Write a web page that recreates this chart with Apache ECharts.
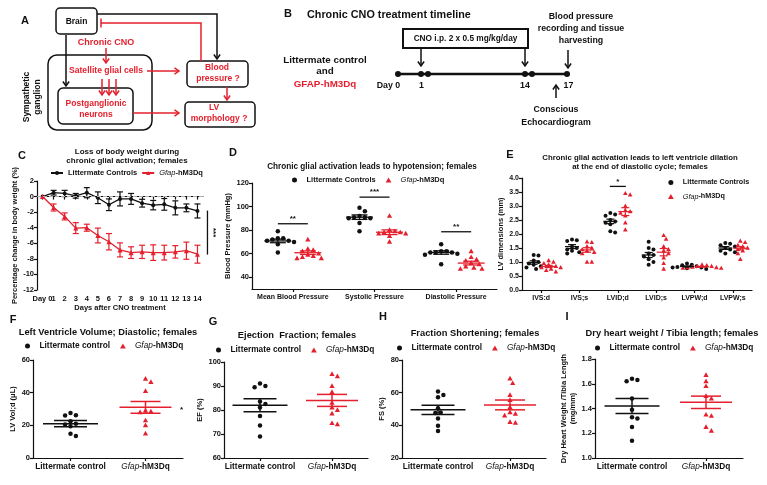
<!DOCTYPE html>
<html><head><meta charset="utf-8">
<script src="https://cdn.jsdelivr.net/npm/echarts@6/dist/echarts.min.js"></script>
<style>html,body{margin:0;padding:0;background:#fff}#c{width:767px;height:485px}</style>
</head><body><div id="c"></div>
<script>
// ================= DATA =================
// Panel C: % change in body weight (mean, SEM) per day
const daysC = ['Day 0','1','2','3','4','5','6','7','8','9','10','11','12','13','14'];
const ctrlMeanC = [0, 0.5, 0.4, 0.1, 0.5, -0.15, -1.05, -0.3, -0.3, -0.85, -1.1, -1.0, -1.45, -1.45, -1.85];
const ctrlSemC  = [0, 0.3, 0.4, 0.3, 0.65, 0.75, 0.75, 0.9, 0.7, 0.5, 0.6, 0.75, 0.9, 0.5, 0.9];
const gfapMeanC = [0, -1.4, -2.55, -4.05, -4.0, -5.0, -5.8, -6.85, -7.2, -7.1, -7.2, -7.2, -7.1, -6.95, -7.4];
const gfapSemC  = [0, 0.45, 0.45, 0.7, 0.45, 0.95, 1.05, 0.9, 0.75, 0.85, 1.0, 0.95, 0.8, 1.1, 1.15];
const sigC = [-1.8, -7.45];
const sigTextC = '***';

// Panel D: blood pressure (mmHg)
const bpCats = ['Mean Blood Pressure', 'Systolic Pressure', 'Diastolic Pressure'];
const bpCtrl = [[79,73,73,72,71,71,70,68,61],[99,96,92,91,91,90,90,86,79],[68,62,62,61,61,61,60,59,51]];
const bpGfap = [[72,64,63,62,60,59,58,57,56,56],[92,80,79,78,78,77,77,75,70],[62,57,55,54,52,51,49,48,47,47]];
const bpCtrlMean = [70.8, 91.0, 61.0];
const bpCtrlSem  = [1.5, 1.9, 1.5];
const bpGfapMean = [60.8, 78.2, 52.0];
const bpGfapSem  = [1.5, 2.0, 1.6];
const bpSigVal  = [85.4, 108, 78.6];
const bpSigText = ['**', '***', '**'];
const bpTicks = [40, 60, 80, 100, 120];

// Panel E: LV dimensions (mm)
const lvCats = ['IVS:d', 'IVS;s', 'LVID;d', 'LVID;s', 'LVPW;d', 'LVPW;s'];
const lvCtrl = [[1.25,1.23,1.05,1.0,0.95,0.9,0.85,0.8,0.75],[1.8,1.78,1.75,1.55,1.5,1.45,1.4,1.35,1.3],[2.75,2.7,2.65,2.5,2.45,2.4,2.35,2.1,2.05],[1.72,1.5,1.45,1.3,1.25,1.2,1.1,1.0,0.9],[0.95,0.9,0.88,0.85,0.82,0.8,0.8,0.78,0.75],[1.68,1.65,1.6,1.55,1.5,1.45,1.4,1.35,1.3]];
const lvGfap = [[1.05,1.0,0.95,0.9,0.85,0.8,0.8,0.75,0.7,0.65],[1.72,1.7,1.55,1.5,1.45,1.4,1.35,1.3,1.0,1.0],[3.45,3.4,3.0,2.85,2.8,2.75,2.65,2.4,2.15],[1.95,1.82,1.55,1.45,1.4,1.3,1.15,0.95,0.75],[0.9,0.88,0.85,0.85,0.82,0.8,0.8,0.78,0.78],[1.75,1.7,1.6,1.55,1.5,1.45,1.4,1.3,1.1]];
const lvCtrlMean = [0.98, 1.55, 2.45, 1.25, 0.84, 1.50];
const lvCtrlSem  = [0.06, 0.07, 0.08, 0.09, 0.02, 0.05];
const lvGfapMean = [0.84, 1.43, 2.80, 1.35, 0.83, 1.49];
const lvGfapSem  = [0.04, 0.08, 0.14, 0.13, 0.01, 0.06];
const lvSigCat = [2];
const lvSigVal = [3.7];
const lvSigText = ['*'];

// Panels F-I: two groups
const grpCats = ['Littermate control', 'Gfap-hM3Dq'];
const lvvCtrl = [27.6, 26.0, 26.2, 22.5, 21.0, 20.5, 19.5, 14.8, 13.5];
const lvvGfap = [48.5, 46.5, 41, 29, 28.5, 28, 23, 20, 15];
const lvvMean = [21.0, 31.0];
const lvvSem  = [1.9, 3.6];
const lvvSigText = '*';
const efCtrl = [91, 90, 89.5, 83.5, 82.5, 81, 77.5, 73.5, 69];
const efGfap = [95, 94, 90, 87.5, 83, 81, 80, 78.5, 74.5, 74];
const efMean = [82.0, 84.0];
const efSem  = [2.7, 2.5];
const fsCtrl = [60.7, 58.6, 57.2, 50.5, 47.9, 47.5, 44.2, 39.7, 36.5];
const fsGfap = [68.6, 65.8, 58.5, 55.5, 51, 48, 47, 46, 42, 41.5];
const fsMean = [49.5, 52.5];
const fsSem  = [2.8, 3.0];
const hwCtrl = [1.64, 1.63, 1.62, 1.48, 1.39, 1.33, 1.32, 1.25, 1.14];
const hwGfap = [1.67, 1.62, 1.58, 1.5, 1.48, 1.35, 1.34, 1.25, 1.22];
const hwMean = [1.42, 1.45];
const hwSem  = [0.06, 0.05];

// ================= STYLE / HELPERS =================
const FONT = '"Liberation Sans", Arial, Helvetica, sans-serif';
const RED = '#e4202e';
const BLK = '#111111';
const TRI_ICON = 'path://M5,0 L10,8.7 L0,8.7 Z';

function T(x, y, text, o) {
  o = o || {};
  return {type:'text', x:x, y:y, rotation:o.rot || 0, z:20,
    style:{text:text, fill:o.color || BLK, fontSize:o.size || 8.5, fontWeight:o.weight || 'bold',
      fontStyle:o.italic ? 'italic' : 'normal', fontFamily:FONT, align:o.align || 'center', verticalAlign:'middle'}};
}
function PL(pts, color, lw) {
  return {type:'polyline', z:15, shape:{points:pts}, style:{stroke:color, lineWidth:lw || 1.5, fill:null}};
}
function ARR(pts, color, lw) {
  const n = pts.length, p1 = pts[n-2], p2 = pts[n-1];
  const a = Math.atan2(p2[1]-p1[1], p2[0]-p1[0]), len = 5.5, sp = 0.6;
  const h1 = [p2[0]-len*Math.cos(a-sp), p2[1]-len*Math.sin(a-sp)];
  const h2 = [p2[0]-len*Math.cos(a+sp), p2[1]-len*Math.sin(a+sp)];
  return [PL(pts, color, lw), PL([h1, p2, h2], color, lw)];
}
function BOX(x, y, w, h, r, lw) {
  return {type:'rect', z:15, shape:{x:x, y:y, width:w, height:h, r:r}, style:{stroke:BLK, lineWidth:lw || 1.5, fill:null}};
}

// beeswarm-like horizontal spreading (pixels), deterministic from values
function swarm(vals, pxPerUnit, size) {
  const placed = [], dx = new Array(vals.length);
  const order = vals.map((v, i) => i).sort((a, b) => vals[b] - vals[a]);
  order.forEach(i => {
    const y = vals[i] * pxPerUnit;
    for (let k = 0; k < 30; k++) {
      const cand = k === 0 ? 0 : (k % 2 ? 1 : -1) * Math.ceil(k / 2) * size * 0.6;
      if (placed.every(p => Math.hypot(p[0]-cand, p[1]-y) >= size * 1.05) || k === 29) {
        placed.push([cand, y]); dx[i] = cand; break;
      }
    }
  });
  return dx;
}
function marker(shape, x, y, s, color) {
  if (shape === 'circle') return {type:'circle', shape:{cx:x, cy:y, r:s/2}, style:{fill:color}};
  return {type:'polygon', shape:{points:[[x, y - s*0.62], [x - s*0.58, y + s*0.42], [x + s*0.58, y + s*0.42]]}, style:{fill:color}};
}
function dotSeries(name, gi, valsByCat, catIdx, color, shape, offPx, size, pxPerUnit) {
  const data = [];
  valsByCat.forEach((vals, j) => {
    const dx = swarm(vals, pxPerUnit, size);
    vals.forEach((v, k) => data.push([catIdx[j], v, dx[k]]));
  });
  return {type:'custom', name:name, xAxisIndex:gi, yAxisIndex:gi, data:data, encode:{x:0, y:1}, z:5,
    itemStyle:{color:color}, silent:true,
    renderItem:(p, api) => {
      const c = api.coord([api.value(0), api.value(1)]);
      return marker(shape, c[0] + offPx + api.value(2), c[1], size, color);
    }};
}
function meanSeries(id, gi, catIdx, means, sems, color, offPx, meanW, capW, lw) {
  return {type:'custom', name:id, xAxisIndex:gi, yAxisIndex:gi, z:6, silent:true,
    data: means.map((m, j) => [catIdx[j], m, sems[j]]), encode:{x:0, y:1},
    renderItem:(p, api) => {
      const ci = api.value(0), m = api.value(1), s = api.value(2);
      const c = api.coord([ci, m]), t = api.coord([ci, m + s]), b = api.coord([ci, m - s]);
      const x = c[0] + offPx, st = {stroke:color, lineWidth:lw};
      return {type:'group', children:[
        {type:'line', shape:{x1:x - meanW/2, y1:c[1], x2:x + meanW/2, y2:c[1]}, style:st},
        {type:'line', shape:{x1:x, y1:t[1], x2:x, y2:b[1]}, style:st},
        {type:'line', shape:{x1:x - capW/2, y1:t[1], x2:x + capW/2, y2:t[1]}, style:st},
        {type:'line', shape:{x1:x - capW/2, y1:b[1], x2:x + capW/2, y2:b[1]}, style:st}
      ]};
    }};
}
function errSeries(id, means, sems, color) {
  return {type:'custom', name:id, xAxisIndex:0, yAxisIndex:0, z:3, silent:true,
    data: means.map((m, i) => [i, m, sems[i]]), encode:{x:0, y:1},
    renderItem:(p, api) => {
      const i = api.value(0), m = api.value(1), s = api.value(2);
      if (!s) return null;
      const t = api.coord([i, m + s]), b = api.coord([i, m - s]), st = {stroke:color, lineWidth:1.2};
      return {type:'group', children:[
        {type:'line', shape:{x1:t[0], y1:t[1], x2:b[0], y2:b[1]}, style:st},
        {type:'line', shape:{x1:t[0]-3, y1:t[1], x2:t[0]+3, y2:t[1]}, style:st},
        {type:'line', shape:{x1:b[0]-3, y1:b[1], x2:b[0]+3, y2:b[1]}, style:st}
      ]};
    }};
}

function mkRich(fs) { return {i:{fontStyle:'italic', fontWeight:'normal', fontFamily:FONT, fontSize:fs, color:BLK}}; }
function fmtName(v) { return v === 'Gfap-hM3Dq' ? '{i|Gfap}-hM3Dq' : v; }

function xCat(gi, cats, fs, extra) {
  return Object.assign({type:'category', gridIndex:gi, data:cats, boundaryGap:true,
    axisLine:{show:true, lineStyle:{color:BLK, width:1.2}},
    axisTick:{show:true, alignWithLabel:true, length:3, lineStyle:{color:BLK, width:1.2}},
    axisLabel:{interval:0, color:BLK, fontSize:fs, fontWeight:'bold', fontFamily:FONT, margin:5,
      formatter:fmtName, rich:mkRich(fs)},
    splitLine:{show:false}}, extra || {});
}
function yVal(gi, min, max, interval, name, gap, extra) {
  return Object.assign({type:'value', gridIndex:gi, min:min, max:max, interval:interval,
    name:name, nameLocation:'middle', nameGap:gap,
    nameTextStyle:{color:BLK, fontSize:7.5, fontWeight:'bold', fontFamily:FONT, lineHeight:9},
    axisLine:{show:true, lineStyle:{color:BLK, width:1.2}},
    axisTick:{show:true, length:3, lineStyle:{color:BLK, width:1.2}},
    axisLabel:{color:BLK, fontSize:7.5, fontWeight:'bold', fontFamily:FONT, margin:3},
    splitLine:{show:false}}, extra || {});
}
function legend(left, top, names, icons, opts) {
  opts = opts || {};
  const fs = opts.fs || 7.5;
  return Object.assign({left:left, top:top, orient:'horizontal', itemGap:opts.gap || 10,
    itemWidth:opts.w || 14, itemHeight:opts.h || 5, selectedMode:false, padding:0, symbolKeepAspect:true,
    data: names.map((n, i) => icons ? {name:n, icon:icons[i]} : {name:n}),
    formatter:fmtName,
    textStyle:{color:BLK, fontSize:fs, fontWeight:'bold', fontFamily:FONT, rich:mkRich(fs)}}, opts.extra || {});
}

// ================= GRAPHICS (panels A, B, letters, titles) =================
const G = [];
// Panel A
G.push(T(25, 21, 'A', {size:11}));
G.push(BOX(56, 8, 41, 26, 4), T(76.5, 22, 'Brain', {size:8.5}));
G.push(BOX(48, 55, 104, 75, 9), BOX(58, 88, 75, 36, 5));
G.push(BOX(187, 61, 61, 26, 4), BOX(185, 102, 70, 25, 4));
G.push(T(106, 43, 'Chronic CNO', {color:RED, size:9}));
G.push(...ARR([[106, 48], [106, 63]], RED, 1.5));
G.push(T(106, 71, 'Satellite glial cells', {color:RED, size:8.6}));
[102, 109, 116].forEach(x => G.push(...ARR([[x, 79], [x, 95]], RED, 1.5)));
G.push(T(96, 104, 'Postganglionic', {color:RED, size:8.5}), T(96, 115, 'neurons', {color:RED, size:8.5}));
G.push(...ARR([[66, 35], [66, 86]], BLK, 1.5));
G.push(...ARR([[97, 14], [217, 14], [217, 59]], BLK, 1.5));
G.push(PL([[201, 61], [201, 23], [101, 23]], RED, 1.5), PL([[101, 18.5], [101, 27.5]], RED, 1.5));
G.push(...ARR([[227, 87], [227, 100]], RED, 1.5));
G.push(...ARR([[147, 71], [179, 71]], RED, 1.5));
G.push(...ARR([[133, 113], [179, 113]], RED, 1.5));
G.push(T(217, 68, 'Blood', {color:RED, size:8.5}), T(218, 79, 'pressure ?', {color:RED, size:8.5}));
G.push(T(214, 108, 'LV', {color:RED, size:8.5}), T(219, 119, 'morphology ?', {color:RED, size:8.5}));
G.push(T(27, 97, 'Sympathetic', {size:8.5, rot:Math.PI/2}), T(38, 97, 'ganglion', {size:8.5, rot:Math.PI/2}));
// Panel B
G.push(T(288, 14, 'B', {size:11}));
G.push(T(307, 15, 'Chronic CNO treatment timeline', {size:10.8, align:'left'}));
G.push({type:'rect', z:15, shape:{x:403, y:29, width:125, height:19}, style:{stroke:BLK, lineWidth:2, fill:null}});
G.push(T(465.5, 38.5, 'CNO i.p. 2 x 0.5 mg/kg/day', {size:8.3}));
G.push(...ARR([[421, 48], [421, 66]], BLK, 1.5), ...ARR([[525, 48], [525, 66]], BLK, 1.5));
G.push(PL([[398, 74], [567, 74]], BLK, 2.5));
[398, 421, 428, 525, 532, 567].forEach(x => G.push({type:'circle', z:16, shape:{cx:x, cy:74, r:3}, style:{fill:BLK}}));
G.push(T(388.5, 86, 'Day 0', {size:8.8}), T(421.5, 86, '1', {size:8.8}), T(525, 86, '14', {size:8.8}), T(568.5, 86, '17', {size:8.8}));
G.push(T(325, 60, 'Littermate control', {size:9.8}), T(325, 71.5, 'and', {size:9.8}), T(325, 84, 'GFAP-hM3Dq', {size:9.8, color:RED}));
G.push(T(581, 17, 'Blood pressure', {size:8.8}), T(581, 29, 'recording and tissue', {size:8.8}), T(581, 41, 'harvesting', {size:8.8}));
G.push(...ARR([[568, 50], [568, 68]], BLK, 1.5), ...ARR([[556, 98], [556, 85]], BLK, 1.5));
G.push(T(556, 110, 'Conscious', {size:8.8}), T(556, 123, 'Echocardiogram', {size:8.8}));
// Panel letters
[['C', 22, 156], ['D', 233, 153], ['E', 510, 155], ['F', 13, 320], ['G', 213, 322], ['H', 383, 317], ['I', 567, 317]]
  .forEach(l => G.push(T(l[1], l[2], l[0], {size:11})));
// Titles
G.push(T(127, 152, 'Loss of body weight during', {size:8}), T(127, 161, 'chronic glial activation; females', {size:8}));
G.push(T(372, 167, 'Chronic glial activation leads to hypotension; females', {size:8.2}));
G.push(T(640, 158, 'Chronic glial activation leads to left ventricle dilation', {size:7.8}), T(640, 166.5, 'at the end of diastolic cycle; females', {size:7.8}));
G.push(T(108, 332, 'Left Ventricle Volume; Diastolic; females', {size:9.3}));
G.push(T(297, 335, 'Ejection  Fraction; females', {size:9.3}));
G.push(T(475, 333, 'Fraction Shortening; females', {size:9.3}));
G.push(T(672, 333, 'Dry heart weight / Tibia length; females', {size:9.3}));

// ================= CHART =================
const grids = [
  {left:37, top:181, width:166, height:109},   // C
  {left:252, top:183, width:245, height:106},  // D
  {left:522, top:178, width:230, height:112},  // E
  {left:33, top:360, width:150, height:98},    // F
  {left:224, top:362, width:144, height:96},   // G
  {left:402, top:360, width:144, height:98},   // H
  {left:595, top:359, width:148, height:99}    // I
];
const pxU = grids.map((g, i) => g.height / [14, 90, 4, 60, 40, 60, 0.8][i]);

const series = [];
// C
series.push(errSeries('ctrl-sem', ctrlMeanC, ctrlSemC, BLK), errSeries('gfap-sem', gfapMeanC, gfapSemC, RED));
series.push({type:'line', name:'Littermate Controls', xAxisIndex:0, yAxisIndex:0, data:ctrlMeanC, z:4,
  symbol:'circle', symbolSize:4, itemStyle:{color:BLK}, lineStyle:{color:BLK, width:1.3},
  markLine:{silent:true, symbol:'none', label:{show:false}, lineStyle:{color:'#b0b0b0', type:'dashed', width:1}, data:[{yAxis:0}]}});
series.push({type:'line', name:'Gfap-hM3Dq', xAxisIndex:0, yAxisIndex:0, data:gfapMeanC, z:4,
  symbol:'triangle', symbolSize:5, itemStyle:{color:RED}, lineStyle:{color:RED, width:1.3}});
series.push({type:'custom', name:'sigC', xAxisIndex:0, yAxisIndex:0, silent:true, data:[[14, sigC[0], sigC[1]]], encode:{x:0, y:1},
  renderItem:(p, api) => {
    const a = api.coord([api.value(0), api.value(1)]), b = api.coord([api.value(0), api.value(2)]);
    const x = a[0] + 10;
    return {type:'group', children:[
      {type:'line', shape:{x1:x, y1:a[1], x2:x, y2:b[1]}, style:{stroke:BLK, lineWidth:1.3}},
      {type:'text', x:x + 6, y:(a[1] + b[1]) / 2, rotation:-Math.PI/2,
        style:{text:sigTextC, align:'center', verticalAlign:'middle', fontSize:8, fontWeight:'bold', fill:BLK, fontFamily:FONT}}]};
  }});
// D
series.push(dotSeries('Littermate Controls', 1, bpCtrl, [0,1,2], BLK, 'circle', -15, 4.5, pxU[1]));
series.push(dotSeries('Gfap-hM3Dq', 1, bpGfap, [0,1,2], RED, 'triangle', 15, 4.5, pxU[1]));
series.push(meanSeries('bpCtrlMean', 1, [0,1,2], bpCtrlMean, bpCtrlSem, BLK, -15, 27, 16, 1.3));
series.push(meanSeries('bpGfapMean', 1, [0,1,2], bpGfapMean, bpGfapSem, RED, 15, 27, 16, 1.3));
series.push({type:'custom', name:'sigD', xAxisIndex:1, yAxisIndex:1, silent:true, data:bpSigVal.map((v, i) => [i, v]), encode:{x:0, y:1},
  renderItem:(p, api) => {
    const c = api.coord([api.value(0), api.value(1)]);
    return {type:'group', children:[
      {type:'line', shape:{x1:c[0]-15, y1:c[1], x2:c[0]+15, y2:c[1]}, style:{stroke:BLK, lineWidth:1.3}},
      {type:'text', x:c[0], y:c[1] - 1, style:{text:bpSigText[p.dataIndex], align:'center', verticalAlign:'bottom', fontSize:8, fontWeight:'bold', fill:BLK, fontFamily:FONT}}]};
  }});
// E
series.push(dotSeries('Littermate Controls', 2, lvCtrl, [0,1,2,3,4,5], BLK, 'circle', -7.5, 4, pxU[2]));
series.push(dotSeries('Gfap-hM3Dq', 2, lvGfap, [0,1,2,3,4,5], RED, 'triangle', 7.5, 4, pxU[2]));
series.push(meanSeries('lvCtrlMean', 2, [0,1,2,3,4,5], lvCtrlMean, lvCtrlSem, BLK, -7.5, 14, 8, 1.2));
series.push(meanSeries('lvGfapMean', 2, [0,1,2,3,4,5], lvGfapMean, lvGfapSem, RED, 7.5, 14, 8, 1.2));
series.push({type:'custom', name:'sigE', xAxisIndex:2, yAxisIndex:2, silent:true, data:lvSigVal.map((v, i) => [lvSigCat[i], v]), encode:{x:0, y:1},
  renderItem:(p, api) => {
    const c = api.coord([api.value(0), api.value(1)]);
    return {type:'group', children:[
      {type:'line', shape:{x1:c[0]-8, y1:c[1], x2:c[0]+8, y2:c[1]}, style:{stroke:BLK, lineWidth:1.3}},
      {type:'text', x:c[0], y:c[1] - 1, style:{text:lvSigText[p.dataIndex], align:'center', verticalAlign:'bottom', fontSize:8, fontWeight:'bold', fill:BLK, fontFamily:FONT}}]};
  }});
// F-I
const twoGroup = [[3, lvvCtrl, lvvGfap, lvvMean, lvvSem], [4, efCtrl, efGfap, efMean, efSem], [5, fsCtrl, fsGfap, fsMean, fsSem], [6, hwCtrl, hwGfap, hwMean, hwSem]];
twoGroup.forEach(g => {
  const gi = g[0];
  series.push(dotSeries('Littermate control', gi, [g[1]], [0], BLK, 'circle', 0, 4.5, pxU[gi]));
  series.push(dotSeries('Gfap-hM3Dq', gi, [g[2]], [1], RED, 'triangle', 0, 4.5, pxU[gi]));
  series.push(meanSeries('m-ctrl-' + gi, gi, [0], [g[3][0]], [g[4][0]], BLK, 0, 55, 33, 1.5));
  series.push(meanSeries('m-gfap-' + gi, gi, [1], [g[3][1]], [g[4][1]], RED, 0, 52, 30, 1.5));
});
series.push({type:'custom', name:'sigF', xAxisIndex:3, yAxisIndex:3, silent:true, data:[[1, lvvMean[1]]], encode:{x:0, y:1},
  renderItem:(p, api) => {
    const c = api.coord([api.value(0), api.value(1)]);
    return {type:'text', x:c[0] + 36, y:c[1] + 2, style:{text:lvvSigText, align:'center', verticalAlign:'middle', fontSize:8, fontWeight:'bold', fill:BLK, fontFamily:FONT}};
  }});

const option = {
  animation:false,
  backgroundColor:'#ffffff',
  textStyle:{fontFamily:FONT},
  grid: grids,
  xAxis: [
    xCat(0, daysC, 7.5, {name:'Days after CNO treatment', nameLocation:'middle', nameGap:12,
      nameTextStyle:{color:BLK, fontSize:7.5, fontWeight:'bold', fontFamily:FONT}}),
    xCat(1, bpCats, 7),
    xCat(2, lvCats, 7),
    xCat(3, grpCats, 8.3),
    xCat(4, grpCats, 8.3),
    xCat(5, grpCats, 8.3),
    xCat(6, grpCats, 8.3)
  ],
  yAxis: [
    yVal(0, -12, 2, 2, 'Percentage change in body weight (%)', 15),
    yVal(1, 30, 120, 10, 'Blood Pressure (mmHg)', 14, {
      axisTick:{show:true, length:3, customValues:bpTicks, lineStyle:{color:BLK, width:1.2}},
      axisLabel:{customValues:bpTicks, color:BLK, fontSize:7.5, fontWeight:'bold', fontFamily:FONT, margin:3}}),
    yVal(2, 0, 4, 0.5, 'LV dimensions (mm)', 12, {
      axisLabel:{color:BLK, fontSize:7, fontWeight:'bold', fontFamily:FONT, margin:3, formatter:v => v.toFixed(1)}}),
    yVal(3, 0, 60, 20, 'LV Vol;d (μL)', 13),
    yVal(4, 60, 100, 10, 'EF (%)', 14),
    yVal(5, 20, 80, 20, 'FS (%)', 13),
    yVal(6, 1.0, 1.8, 0.2, 'Dry Heart Weight /Tibia Length\n(mg/mm)', 14, {
      axisLabel:{color:BLK, fontSize:7.5, fontWeight:'bold', fontFamily:FONT, margin:3, formatter:v => v.toFixed(1)}})
  ],
  legend: [
    legend(50, 169, ['Littermate Controls', 'Gfap-hM3Dq'], null, {w:12, h:5, gap:4}),
    legend(292, 176, ['Littermate Controls', 'Gfap-hM3Dq'], ['circle', TRI_ICON], {gap:10}),
    legend(668, 179, ['Littermate Controls', 'Gfap-hM3Dq'], ['circle', TRI_ICON], {gap:7, fs:7.2, extra:{orient:'vertical'}}),
    legend(25, 342, ['Littermate control', 'Gfap-hM3Dq'], ['circle', TRI_ICON], {gap:10, fs:8.3}),
    legend(216, 346, ['Littermate control', 'Gfap-hM3Dq'], ['circle', TRI_ICON], {gap:10, fs:8.3}),
    legend(397, 344, ['Littermate control', 'Gfap-hM3Dq'], ['circle', TRI_ICON], {gap:10, fs:8.3}),
    legend(595, 344, ['Littermate control', 'Gfap-hM3Dq'], ['circle', TRI_ICON], {gap:10, fs:8.3})
  ],
  graphic: {elements: G},
  series: series
};

const chart = echarts.init(document.getElementById('c'), null, {renderer:'canvas', width:767, height:485});
chart.setOption(option);
</script>
</body></html>
